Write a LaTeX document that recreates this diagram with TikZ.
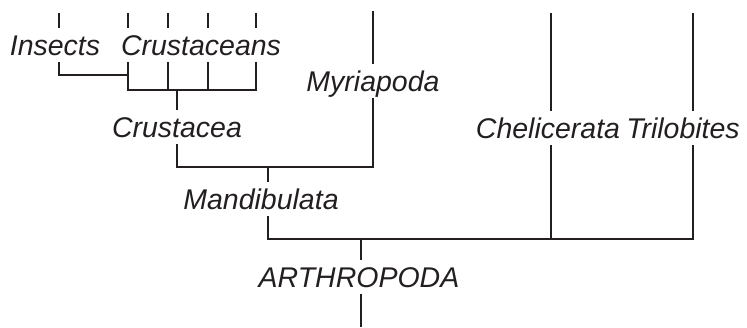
\documentclass[tikz,border=0pt]{standalone}
\usepackage{fontspec}
\setmainfont{Liberation Sans}
\definecolor{ink}{RGB}{35,31,32}
\tikzset{
    taxon/.style={anchor=base, text=ink, font=\itshape\fontsize{28.5}{30}\selectfont,
        inner xsep=0pt, inner ysep=3pt, text height=24pt, text depth=4pt},
    branch/.style={draw=ink, line width=2pt, line join=miter},
}

\begin{document}
\begin{tikzpicture}[x=1pt, y=-1pt]
    \useasboundingbox (0,0) rectangle (747,327);

    % Taxon labels
    \node[taxon] (ins) at (55,55) {Insects};
    \node[taxon] (crus) at (201,55) {Crustaceans};
    \node[taxon] (crusta) at (177,137) {Crustacea};
    \node[taxon] (myr) at (373,91) {Myriapoda};
    \node[taxon] (mand) at (261,209) {Mandibulata};
    \node[taxon] (chel) at (548,138) {Chelicerata};
    \node[taxon] (tril) at (683,138) {Trilobites};
    \node[taxon] (arth) at (359,287) {ARTHROPODA};

    % Branch tips and joints
    \coordinate (insT) at (59,13);
    \coordinate (insJ) at (128,75);
    \coordinate (crusJ) at (177,90);
    \coordinate (myrT) at (373,11);
    \coordinate (mandJ) at (268,167);
    \coordinate (chelT) at (551,13);
    \coordinate (trilT) at (693,13);
    \coordinate (arthJ) at (361,239);
    \coordinate (root) at (361,327);

    % Crustacea
    \draw[branch] (insT) -- (insT |- ins.north);
    \foreach \cx [count=\i] in {128,168,208,256} {
        \coordinate (crT\i) at (\cx,13);
        \draw[branch] (crT\i) -- (crT\i |- crus.north);
    }
    \draw[branch] (crT1 |- crus.south) -- (crT1 |- crusJ) -- (crT4 |- crusJ) -- (crT4 |- crus.south);
    \foreach \i in {2,3} {
        \draw[branch] (crT\i |- crus.south) -- (crT\i |- crusJ);
    }
    \draw[branch] (insT |- ins.south) |- (insJ);
    \draw[branch] (crusJ) -- (crusta.north);

    % Mandibulata
    \draw[branch] (myrT) -- (myrT |- myr.north);
    \draw[branch] (crusta.south) |- (myrT |- mandJ) -- (myrT |- myr.south);
    \draw[branch] (mandJ) -- (mandJ |- mand.north);

    % Arthropoda
    \draw[branch] (chelT) -- (chelT |- chel.north);
    \draw[branch] (trilT) -- (trilT |- tril.north);
    \draw[branch] (mandJ |- mand.south) |- (trilT |- arthJ) -- (trilT |- tril.south);
    \draw[branch] (chelT |- chel.south) -- (chelT |- arthJ);
    \draw[branch] (arthJ) -- (arthJ |- arth.north);
    \draw[branch] (arthJ |- arth.south) -- (root);
\end{tikzpicture}
\end{document}
